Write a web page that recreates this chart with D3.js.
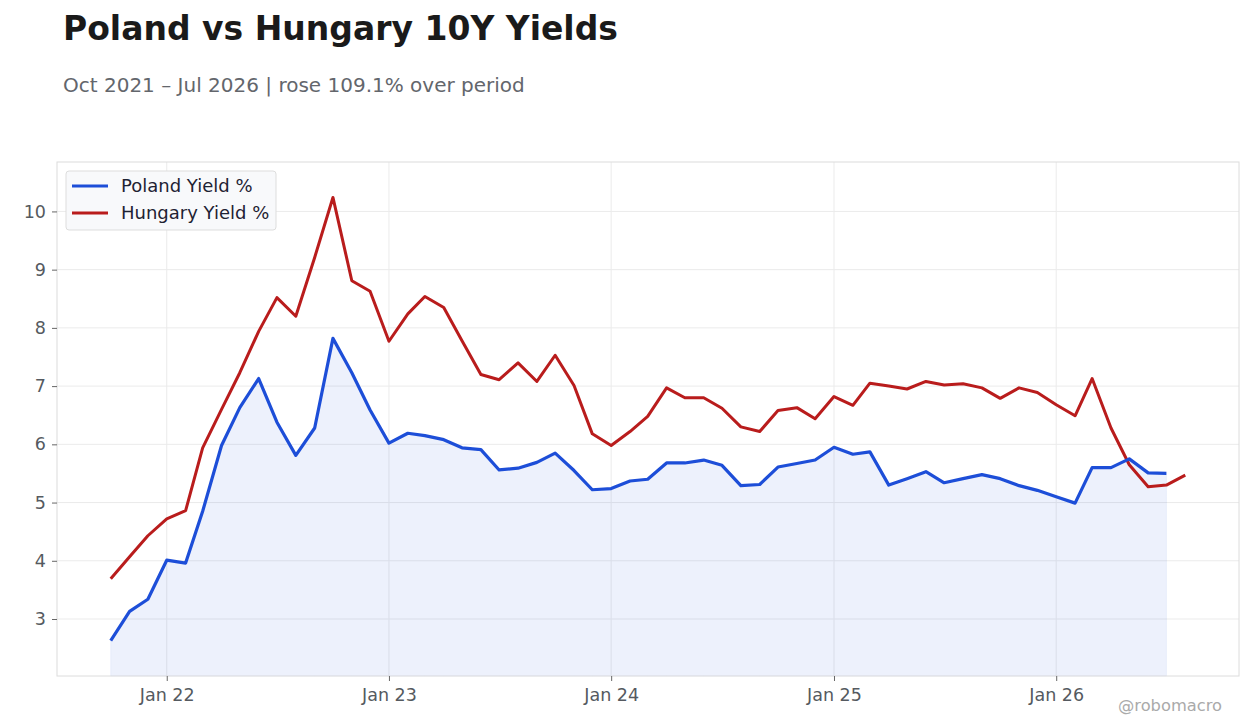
<!DOCTYPE html>
<html>
<head>
<meta charset="utf-8">
<script src="https://cdn.jsdelivr.net/npm/d3@7"></script>
<style>
  body { margin: 0; background: #fff; font-family: "DejaVu Sans", sans-serif; }
  svg { display: block; overflow: visible; }
</style>
</head>
<body>
<svg id="chart" width="1260" height="728"></svg>
<script>
// Monthly observations, Oct 2021 onwards
const months = [
  "2021-10", "2021-11", "2021-12",
  "2022-01", "2022-02", "2022-03", "2022-04", "2022-05", "2022-06",
  "2022-07", "2022-08", "2022-09", "2022-10", "2022-11", "2022-12",
  "2023-01", "2023-02", "2023-03", "2023-04", "2023-05", "2023-06",
  "2023-07", "2023-08", "2023-09", "2023-10", "2023-11", "2023-12",
  "2024-01", "2024-02", "2024-03", "2024-04", "2024-05", "2024-06",
  "2024-07", "2024-08", "2024-09", "2024-10", "2024-11", "2024-12",
  "2025-01", "2025-02", "2025-03", "2025-04", "2025-05", "2025-06",
  "2025-07", "2025-08", "2025-09", "2025-10", "2025-11", "2025-12",
  "2026-01", "2026-02", "2026-03", "2026-04", "2026-05", "2026-06",
  "2026-07", "2026-08"
];

const polandYield = [
  2.63, 3.13, 3.34,
  4.01, 3.96, 4.85, 5.98, 6.63, 7.13, 6.38, 5.81, 6.28, 7.82, 7.23, 6.59,
  6.02, 6.19, 6.15, 6.08, 5.94, 5.91, 5.56, 5.59, 5.69, 5.85, 5.55, 5.22,
  5.24, 5.37, 5.40, 5.68, 5.68, 5.73, 5.64, 5.29, 5.31, 5.61, 5.67, 5.73,
  5.95, 5.83, 5.87, 5.30, 5.41, 5.53, 5.34, 5.41, 5.48, 5.41, 5.29, 5.21,
  5.10, 4.99, 5.60, 5.60, 5.75, 5.51, 5.50
];

const hungaryYield = [
  3.69, 4.07, 4.43,
  4.72, 4.86, 5.94, 6.60, 7.23, 7.94, 8.52, 8.20, 9.21, 10.24, 8.81, 8.63,
  7.77, 8.24, 8.54, 8.35, 7.78, 7.20, 7.11, 7.40, 7.08, 7.53, 7.01, 6.18,
  5.98, 6.22, 6.48, 6.97, 6.80, 6.80, 6.62, 6.30, 6.22, 6.58, 6.63, 6.44,
  6.82, 6.67, 7.05, 7.00, 6.95, 7.08, 7.02, 7.04, 6.97, 6.79, 6.97, 6.89,
  6.68, 6.49, 7.13, 6.28, 5.65, 5.27, 5.30, 5.47
];

const yTicks = [3, 4, 5, 6, 7, 8, 9, 10];
const xTickDates = ["2022-01", "2023-01", "2024-01", "2025-01", "2026-01"];

const seriesNames = ["Poland Yield %", "Hungary Yield %"];
const seriesColors = ["#1d4ed8", "#b91c1c"];

const width = 1260;
const height = 728;
const margin = { top: 162, right: 21, bottom: 52, left: 57 };
const innerWidth = width - margin.left - margin.right;
const innerHeight = height - margin.top - margin.bottom;

const parseMonth = d3.utcParse("%Y-%m");
const dates = months.map(parseMonth);

const poland = polandYield.map((v, i) => ({ date: dates[i], value: v }));
const hungary = hungaryYield.map((v, i) => ({ date: dates[i], value: v }));

const svg = d3.select("#chart");

// Title and subtitle
svg.append("text")
  .attr("x", 63)
  .attr("y", 40)
  .attr("font-size", 33)
  .attr("font-weight", "bold")
  .attr("fill", "#1a1a1a")
  .text("Poland vs Hungary 10Y Yields");

svg.append("text")
  .attr("x", 63)
  .attr("y", 92)
  .attr("font-size", 20)
  .attr("fill", "#63666c")
  .text("Oct 2021 – Jul 2026 | rose 109.1% over period");

const g = svg.append("g")
  .attr("transform", `translate(${margin.left},${margin.top})`);

// Scales
const [x0, x1] = d3.extent(dates);
const xPad = (x1 - x0) * 0.05;
const xScale = d3.scaleUtc()
  .domain([new Date(+x0 - xPad), new Date(+x1 + xPad)])
  .range([0, innerWidth]);

const allValues = polandYield.concat(hungaryYield);
const [yMin, yMax] = d3.extent(allValues);
const yPad = (yMax - yMin) * 0.08;
const yScale = d3.scaleLinear()
  .domain([yMin - yPad, yMax + yPad])
  .range([innerHeight, 0]);

const xTicks = xTickDates.map(parseMonth);

// Grid
g.append("g")
  .selectAll("line")
  .data(yTicks)
  .enter()
  .append("line")
  .attr("x1", 0)
  .attr("x2", innerWidth)
  .attr("y1", (d) => yScale(d))
  .attr("y2", (d) => yScale(d))
  .attr("stroke", "#ebebeb")
  .attr("stroke-width", 1);

g.append("g")
  .selectAll("line")
  .data(xTicks)
  .enter()
  .append("line")
  .attr("x1", (d) => xScale(d))
  .attr("x2", (d) => xScale(d))
  .attr("y1", 0)
  .attr("y2", innerHeight)
  .attr("stroke", "#ebebeb")
  .attr("stroke-width", 1);

// Area under Poland
const area = d3.area()
  .x((d) => xScale(d.date))
  .y0(innerHeight)
  .y1((d) => yScale(d.value));

g.append("path")
  .datum(poland)
  .attr("d", area)
  .attr("fill", seriesColors[0])
  .attr("fill-opacity", 0.08)
  .attr("stroke", seriesColors[0])
  .attr("stroke-opacity", 0.06);

// Lines
const line = d3.line()
  .x((d) => xScale(d.date))
  .y((d) => yScale(d.value));

g.append("path")
  .datum(hungary)
  .attr("d", line)
  .attr("fill", "none")
  .attr("stroke", seriesColors[1])
  .attr("stroke-width", 3)
  .attr("stroke-linejoin", "round");

g.append("path")
  .datum(poland)
  .attr("d", line)
  .attr("fill", "none")
  .attr("stroke", seriesColors[0])
  .attr("stroke-width", 3.2)
  .attr("stroke-linejoin", "round");

// Frame
g.append("rect")
  .attr("x", 0)
  .attr("y", 0)
  .attr("width", innerWidth)
  .attr("height", innerHeight)
  .attr("fill", "none")
  .attr("stroke", "#dcdcdc")
  .attr("stroke-width", 1);

// Axes
const fmt = d3.utcFormat("Jan %y");

const xAxis = g.append("g")
  .attr("transform", `translate(0,${innerHeight})`)
  .call(d3.axisBottom(xScale).tickValues(xTicks).tickFormat(fmt).tickSize(5).tickPadding(8));

const yAxis = g.append("g")
  .call(d3.axisLeft(yScale).tickValues(yTicks).tickSize(5).tickPadding(6));

[xAxis, yAxis].forEach((ax) => {
  ax.select(".domain").remove();
  ax.selectAll(".tick line").attr("stroke", "#666");
  ax.selectAll(".tick text")
    .attr("fill", "#555a60")
    .attr("font-size", 17.5)
    .attr("font-family", "DejaVu Sans");
});

// Legend
const legend = g.append("g")
  .attr("transform", "translate(9,9)");

legend.append("rect")
  .attr("width", 210)
  .attr("height", 59)
  .attr("rx", 3)
  .attr("fill", "#f8f9fb")
  .attr("stroke", "#dddddd");

seriesNames.forEach((name, i) => {
  const row = legend.append("g")
    .attr("transform", `translate(0,${15 + i * 27})`);
  row.append("line")
    .attr("x1", 6)
    .attr("x2", 42)
    .attr("stroke", seriesColors[i])
    .attr("stroke-width", 3);
  row.append("text")
    .attr("x", 55)
    .attr("dy", "0.35em")
    .attr("font-size", 18)
    .attr("fill", "#1e2233")
    .text(name);
});

// Watermark
svg.append("text")
  .attr("x", 1222)
  .attr("y", 711)
  .attr("text-anchor", "end")
  .attr("font-size", 16.3)
  .attr("fill", "#aaaaaa")
  .text("@robomacro");
</script>
</body>
</html>
